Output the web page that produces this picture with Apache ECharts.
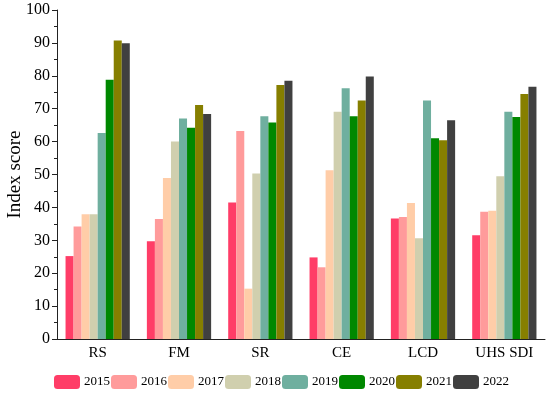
<!DOCTYPE html>
<html><head><meta charset="utf-8">
<script src="https://cdn.jsdelivr.net/npm/echarts@6/dist/echarts.min.js"></script>
<style>html,body{margin:0;padding:0;background:#fff}#c{width:550px;height:397px}</style>
</head><body><div id="c"></div>
<script>
const categories = ['RS','FM','SR','CE','LCD','UHS SDI'];
const years = ['2015','2016','2017','2018','2019','2020','2021','2022'];
const colors = ['#FF3D67','#FF9B9B','#FFCDA8','#D0CFAE','#6FAF9F','#008800','#867F00','#404040'];
const v2015 = [25.2, 29.7, 41.5, 24.8, 36.6, 31.5];
const v2016 = [34.2, 36.5, 63.2, 21.8, 37.1, 38.7];
const v2017 = [37.9, 48.9, 15.3, 51.3, 41.3, 39.0];
const v2018 = [37.9, 60.0, 50.3, 69.1, 30.6, 49.5];
const v2019 = [62.6, 67.0, 67.7, 76.2, 72.5, 69.1];
const v2020 = [78.8, 64.2, 65.8, 67.7, 61.0, 67.5];
const v2021 = [90.7, 71.1, 77.2, 72.5, 60.4, 74.5];
const v2022 = [89.9, 68.4, 78.5, 79.8, 66.5, 76.7];
const allVals = [v2015,v2016,v2017,v2018,v2019,v2020,v2021,v2022];
const font = '"Liberation Serif","Times New Roman",serif';
const chart = echarts.init(document.getElementById('c'));
chart.setOption({
  animation:false,
  textStyle:{fontFamily:font,color:'#000'},
  grid:{left:57,right:5,top:10,bottom:58,containLabel:false,outerBoundsMode:'none'},
  legend:{left:49,top:370,width:510,itemWidth:26,itemHeight:14,itemGap:1,
    textStyle:{fontFamily:font,fontSize:13,color:'#000',padding:[0,0,0,-1]},
    data:years},
  xAxis:{type:'category',data:categories,
    axisLine:{lineStyle:{color:'#222',width:1}},
    axisTick:{show:false},
    axisLabel:{fontFamily:font,fontSize:15,color:'#000',margin:7}},
  yAxis:{type:'value',min:0,max:100,interval:10,
    name:'Index score',nameLocation:'middle',nameGap:32,nameMoveOverlap:false,
    nameTextStyle:{fontFamily:font,fontSize:19,color:'#000'},
    axisLine:{show:true,lineStyle:{color:'#222',width:1}},
    axisTick:{show:true,inside:false,length:5,lineStyle:{color:'#222'}},
    minorTick:{show:true,splitNumber:2,length:3,lineStyle:{color:'#222'}},
    splitLine:{show:false},
    axisLabel:{fontFamily:font,fontSize:16,color:'#000',margin:7}},
  series: years.map((y,i)=>({name:y,type:'bar',data:allVals[i],
    barGap:'0%',barCategoryGap:'21%',itemStyle:{color:colors[i]}}))
});
</script></body></html>
